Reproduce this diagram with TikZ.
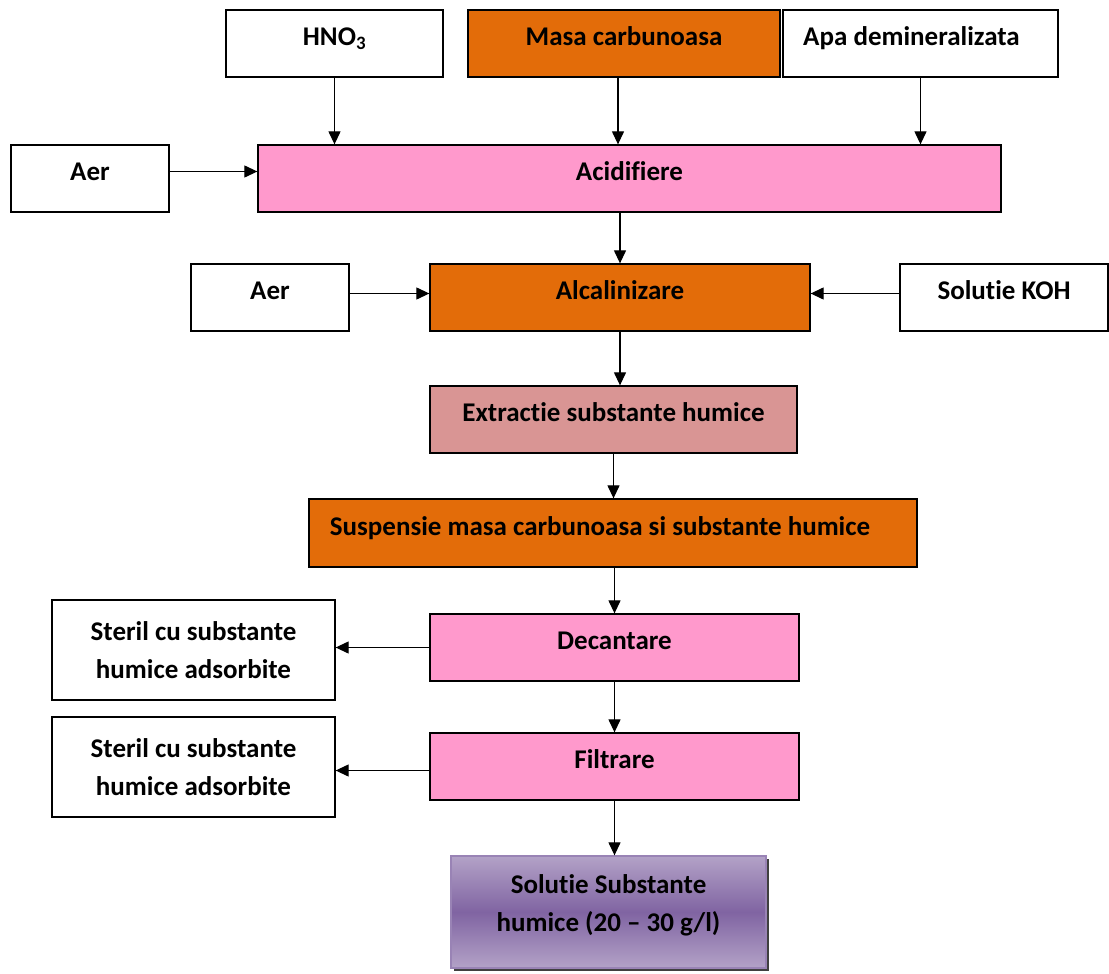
\documentclass[tikz,border=0pt]{standalone}
\usepackage{fontspec}
\setmainfont{Carlito}[Ligatures={NoCommon,NoContextual}]
\usepackage{tikz}
\usetikzlibrary{arrows.meta, shadows}

\definecolor{orangebox}{HTML}{E36C09}
\definecolor{pinkbox}{HTML}{FF99CC}
\definecolor{rosebox}{HTML}{D99594}
\definecolor{purpletop}{HTML}{B3A2C7}
\definecolor{purplemid}{HTML}{8064A2}

\begin{document}
\begin{tikzpicture}[x=1pt, y=-1pt,
    box/.style={draw, line width=1.3pt, rectangle, minimum height=67pt,
        font=\fontsize{27}{38}\selectfont\bfseries, text height=18pt, text depth=14pt},
    twoline/.style={draw, line width=1.3pt, rectangle, align=center,
        font=\fontsize{27}{38}\selectfont\bfseries},
    arr/.style={line width=1.2pt, -{Triangle[length=13pt, width=12pt]}}]
                \useasboundingbox (0,0) rectangle (1109,974);

                % Inputs on top
                \node[box, minimum width=217pt] (hno) at (334.5,43.5) {HNO\textsubscript{3}};
                \node[box, fill=orangebox, minimum width=312pt] (masa) at (624,43.5) {Masa carbunoasa};
                \node[box, minimum width=275pt] (apa) at (920.5,43.5) {Apa demineralizata\kern18pt};

                % Main chain
                \node[box, minimum width=158pt] (aer1) at (90,178.5) {Aer};
                \node[box, fill=pinkbox, minimum width=743pt] (acid) at (629.5,178.5) {Acidifiere};
                \node[box, minimum width=158pt] (aer2) at (270,297.5) {Aer};
                \node[box, fill=orangebox, minimum width=380pt] (alcal) at (620,297.5) {Alcalinizare};
                \node[box, minimum width=208pt] (koh) at (1004,297.5) {Solut\kern0pt ie KOH};
                \node[box, fill=rosebox, minimum width=367pt] (extr) at (613.5,419.5) {Extract\kern0pt ie substante humice};
                \node[box, fill=orangebox, minimum width=608pt, minimum height=68pt] (susp) at (613,533) {Suspensie masa carbunoasa si substante humice\kern26pt};
                \node[box, fill=pinkbox, minimum width=369pt] (dec) at (614.5,647.5) {Decantare};
                \node[box, fill=pinkbox, minimum width=369pt] (filt) at (614.5,766.5) {Filtrare};

                % Outputs
                \node[twoline, minimum width=283pt, minimum height=100pt] (steril1) at (193.5,650) {Steril cu substante\\humice adsorbite};
                \node[twoline, minimum width=283pt, minimum height=100pt] (steril2) at (193.5,767) {Steril cu substante\\humice adsorbite};
                \node[twoline, draw=purplemid!80, top color=purpletop, bottom color=purpletop, middle color=purplemid,
                    drop shadow={shadow xshift=3pt, shadow yshift=-3pt, fill=black!75, opacity=1},
                    minimum width=315pt, minimum height=112pt, text depth=18pt] (sol) at (608.5,912) {Solut\kern0pt ie Substante\\humice (20 -- 30 g/l)};

                % Arrows
                \draw[arr] (hno.south) -- (hno.south |- acid.north);
                \draw[arr] ([xshift=-6pt]masa.south) -- ([xshift=-6pt]masa.south |- acid.north);
                \draw[arr] (apa.south) -- (apa.south |- acid.north);
                \draw[arr] ([yshift=7pt]aer1.east) -- ([yshift=7pt]aer1.east -| acid.west);
                \draw[arr] (alcal.north |- acid.south) -- (alcal.north);
                \draw[arr] ([yshift=4pt]aer2.east) -- ([yshift=4pt]aer2.east -| alcal.west);
                \draw[arr] ([yshift=4pt]koh.west) -- ([yshift=4pt]koh.west -| alcal.east);
                \draw[arr] (alcal.south) -- (alcal.south |- extr.north);
                \draw[arr] (extr.south) -- (extr.south |- susp.north);
                \draw[arr] (dec.north |- susp.south) -- (dec.north);
                \draw[arr] (dec.west) -- (dec.west -| steril1.east);
                \draw[arr] (dec.south) -- (filt.north);
                \draw[arr] ([yshift=-4pt]filt.west) -- ([yshift=-4pt]filt.west -| steril2.east);
                \draw[arr] (filt.south) -- (filt.south |- sol.north);
            \end{tikzpicture}
\end{document}
